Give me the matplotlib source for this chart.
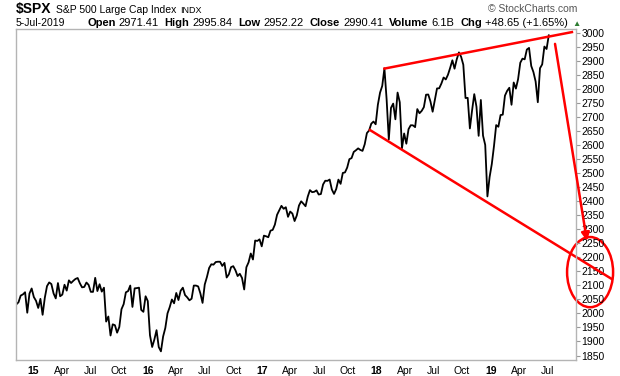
import numpy as np
import pandas as pd
import matplotlib
matplotlib.use('Agg')
import matplotlib.pyplot as plt
import matplotlib.dates as mdates
from matplotlib.patches import Ellipse

plt.rcParams['font.family'] = ['Liberation Sans', 'DejaVu Sans']

# weekly closes of $SPX
closes_2014 = [2031.92, 2039.82, 2063.50, 2067.56, 2075.37, 2002.33, 2070.65, 2088.77]
closes_2015 = [2058.20, 2044.81, 2019.42, 2051.82, 1994.99, 2055.47, 2096.99, 2110.30, 2104.50,
               2071.26, 2053.40, 2108.10, 2061.02, 2066.96, 2102.06, 2081.18, 2117.69, 2108.29,
               2116.10, 2122.73, 2126.06, 2107.39, 2092.83, 2094.11, 2109.99, 2101.49, 2076.78,
               2076.62, 2126.64, 2079.65, 2103.84, 2077.57, 2091.54, 1970.89, 1988.87, 1921.22,
               1961.05, 1958.03, 1931.34, 1951.36, 2014.89, 2033.11, 2075.15, 2079.36, 2099.20,
               2023.04, 2089.17, 2090.11, 2091.69, 2012.37, 2005.55, 2060.99]
closes_2016 = [2043.94, 1922.03, 1880.33, 1906.90, 1940.24, 1880.05, 1864.78, 1917.78, 1948.05,
               1999.99, 2022.19, 2049.58, 2035.94, 2072.78, 2047.60, 2080.73, 2091.58, 2065.30,
               2057.14, 2046.61, 2052.32, 2099.06, 2099.13, 2096.07, 2071.22, 2037.41, 2102.95,
               2129.90, 2161.74, 2175.03, 2173.60, 2182.87, 2184.05, 2183.87, 2169.04, 2179.98,
               2127.81, 2139.16, 2164.69, 2168.27, 2153.74, 2132.98, 2141.16, 2126.41, 2085.18,
               2164.45, 2181.90, 2213.35, 2191.95, 2259.53, 2258.07, 2263.79, 2238.83]
closes_2017 = [2276.98, 2274.64, 2271.31, 2294.69, 2297.42, 2316.10, 2351.16, 2367.34, 2383.12,
               2372.60, 2378.25, 2343.98, 2362.72, 2355.54, 2328.95, 2348.69, 2384.20, 2399.29,
               2390.90, 2381.73, 2415.82, 2439.07, 2431.77, 2433.15, 2438.30, 2423.41, 2425.18,
               2459.27, 2472.54, 2472.10, 2476.83, 2441.32, 2425.55, 2443.05, 2476.55, 2461.43,
               2500.23, 2502.22, 2519.36, 2549.33, 2553.17, 2575.21, 2581.07, 2587.84, 2582.30,
               2578.85, 2602.42, 2642.22, 2651.50, 2675.81, 2683.34, 2673.61]
closes_2018 = [2743.15, 2786.24, 2810.30, 2872.87, 2762.13, 2619.55, 2732.22, 2747.30, 2691.25,
               2786.57, 2752.01, 2588.26, 2640.87, 2604.47, 2656.30, 2670.14, 2669.91, 2663.42,
               2727.72, 2712.97, 2721.33, 2734.62, 2779.03, 2779.66, 2754.88, 2718.37, 2759.82,
               2801.31, 2801.83, 2818.82, 2840.35, 2833.28, 2850.13, 2874.69, 2901.52, 2871.68,
               2904.98, 2929.67, 2913.98, 2885.57, 2767.13, 2767.78, 2658.69, 2723.06, 2781.01,
               2736.27, 2632.56, 2760.17, 2633.08, 2599.95, 2416.62, 2485.74]
closes_2019 = [2531.94, 2596.26, 2670.71, 2664.76, 2706.53, 2707.88, 2775.60, 2792.67, 2803.69,
               2743.07, 2822.48, 2800.71, 2834.40, 2892.74, 2907.41, 2905.03, 2939.88, 2945.64,
               2881.40, 2859.53, 2826.06, 2752.06, 2873.34, 2886.98, 2950.46, 2941.76, 2990.41]

closes = closes_2014 + closes_2015 + closes_2016 + closes_2017 + closes_2018 + closes_2019
dates = pd.date_range('2014-11-07', '2019-07-05', freq='W-FRI')

tick_dates = pd.date_range('2015-01-01', '2019-07-01', freq='QS')
tick_labels = ['15', 'Apr', 'Jul', 'Oct', '16', 'Apr', 'Jul', 'Oct', '17', 'Apr', 'Jul', 'Oct',
               '18', 'Apr', 'Jul', 'Oct', '19', 'Apr', 'Jul']
y_ticks = list(range(1850, 3001, 50))

# red annotations (date, price)
upper_dates = ['2018-01-26', '2019-09-17']
upper_vals = [2872, 3002]
lower_dates = ['2017-12-11', '2020-01-23']
lower_vals = [2653, 2122]
arrow_dates = ['2019-07-25', '2019-11-04']
arrow_vals = [2960, 2258]
circle_date = '2019-11-14'
circle_val = 2147

W, H = 620, 376
fig = plt.figure(figsize=(6.2, 3.76), dpi=100)
ax = fig.add_axes([16/W, 1-360/H, 560/W, 331/H])

ax.plot(dates, closes, color='black', lw=1.3)
ax.set_xlim(pd.Timestamp('2014-11-06'), pd.Timestamp('2019-09-30'))
ax.set_ylim(1834, 3013)

for s in ax.spines.values():
    s.set_color('#b4b4b4')
    s.set_linewidth(1)

ax.yaxis.tick_right()
ax.set_yticks(y_ticks)
ax.tick_params(axis='y', length=3, width=0.8, color='#999999', labelsize=7.5, pad=1)
ax.set_xticks(tick_dates)
ax.set_xticklabels(tick_labels)
ax.tick_params(axis='x', length=0, pad=4, labelsize=7.5)
for lab in ax.get_xticklabels():
    if lab.get_text().isdigit():
        lab.set_fontweight('bold')

# trend lines and target circle
ax.plot(pd.to_datetime(upper_dates), upper_vals, color='red', lw=1.8, clip_on=False)
ax.plot(pd.to_datetime(lower_dates), lower_vals, color='red', lw=1.8, clip_on=False)
ax.annotate('', xy=(pd.Timestamp(arrow_dates[1]), arrow_vals[1]),
            xytext=(pd.Timestamp(arrow_dates[0]), arrow_vals[0]),
            arrowprops=dict(arrowstyle='-|>', color='red', lw=1.8, mutation_scale=12,
                            shrinkA=0, shrinkB=0),
            annotation_clip=False)
ax.add_patch(Ellipse((mdates.date2num(pd.Timestamp(circle_date)), circle_val), width=147,
                     height=250, fill=False, ec='red', lw=1.8, clip_on=False))


def px(x, y):
    return x / W, 1 - y / H


renderer = fig.canvas.get_renderer()


def chain(x, y, pieces):
    # lay out text pieces one after another, return the end x
    for txt, size, bold, gap in pieces:
        t = fig.text(*px(x, y), txt, fontsize=size, fontweight='bold' if bold else 'normal',
                     parse_math=False)
        x = t.get_window_extent(renderer).x1 + gap
    return x


# header
chain(16, 13, [('$SPX', 10, True, 4), ('S&P 500 Large Cap Index', 7.5, False, 4),
               ('INDX', 6.5, False, 0)])
fig.text(*px(577, 12), '\u00a9 StockCharts.com', fontsize=7.5, color='#555555', ha='right')
fig.text(*px(16, 26), '5-Jul-2019', fontsize=7.5)

pieces = []
for lab, val in [('Open', '2971.41'), ('High', '2995.84'), ('Low', '2952.22'),
                 ('Close', '2990.41'), ('Volume', '6.1B'), ('Chg', '+48.65 (+1.65%)')]:
    pieces += [(lab, 8, True, 3), (val, 8, False, 6)]
x_end = chain(87, 26, pieces)
fig.text(*px(x_end - 2, 26), '\u25b2', fontsize=6, color='#2e7d32')

fig.savefig('out.png', dpi=100)
